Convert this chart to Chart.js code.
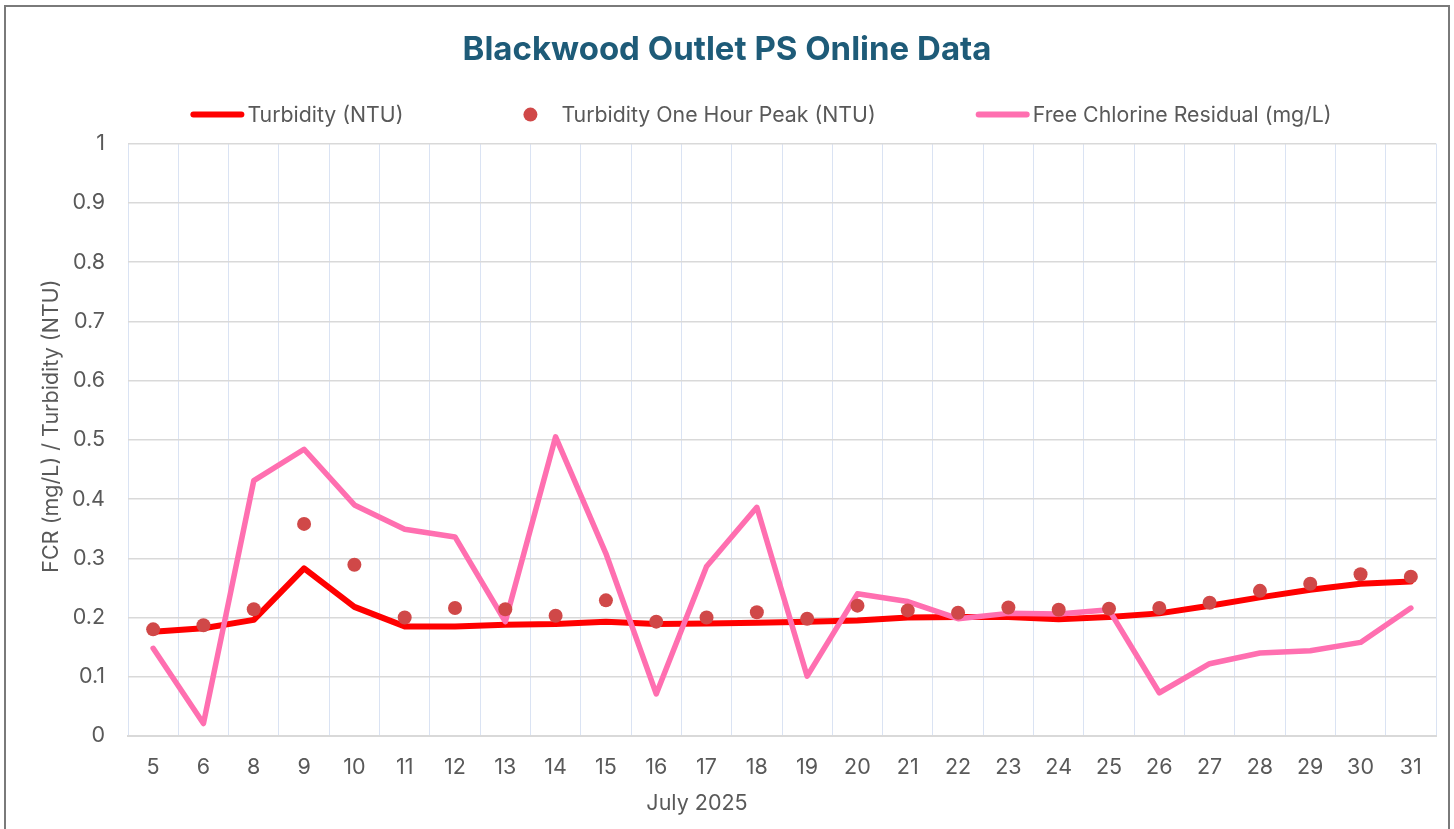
<!DOCTYPE html>
<html>
<head>
<meta charset="utf-8">
<script src="https://cdn.jsdelivr.net/npm/chart.js@4/dist/chart.umd.min.js"></script>
<style>
  html, body { margin: 0; padding: 0; background: #fff; }
  #wrap { position: relative; width: 1454px; height: 829px; overflow: hidden; }
  #frame { position: absolute; left: 4px; top: 5px; width: 1442px; height: 840px;
           border: 2px solid #7a7a7a; pointer-events: none; }
</style>
</head>
<body>
<div id="wrap">
  <canvas id="chart" width="1454" height="829"></canvas>
  <div id="frame"></div>
</div>
<script>
// ----- data -----
const days = ['5', '6', '8', '9', '10', '11', '12', '13', '14', '15', '16', '17', '18',
  '19', '20', '21', '22', '23', '24', '25', '26', '27', '28', '29', '30', '31'];
const turbidity = [0.176, 0.182, 0.196, 0.283, 0.218, 0.185, 0.185, 0.188, 0.189, 0.193, 0.189, 0.190, 0.191,
  0.193, 0.195, 0.200, 0.201, 0.201, 0.197, 0.201, 0.207, 0.220, 0.234, 0.247, 0.257, 0.261];
const turbidityPeak = [0.180, 0.187, 0.214, 0.358, 0.289, 0.200, 0.216, 0.214, 0.203, 0.229, 0.193, 0.200, 0.209,
  0.198, 0.220, 0.212, 0.208, 0.217, 0.213, 0.215, 0.216, 0.225, 0.245, 0.257, 0.273, 0.269];
const chlorine = [0.148, 0.021, 0.431, 0.484, 0.390, 0.349, 0.336, 0.193, 0.505, 0.308, 0.071, 0.286, 0.386,
  0.101, 0.240, 0.227, 0.198, 0.207, 0.206, 0.213, 0.073, 0.122, 0.140, 0.144, 0.158, 0.216];
const yTicks = [0, 0.1, 0.2, 0.3, 0.4, 0.5, 0.6, 0.7, 0.8, 0.9, 1];
const xTitle = 'July 2025';
const yTitle = 'FCR (mg/L) / Turbidity (NTU)';

const RED = '#ff0000', PINK = '#ff6fb0', DOT = '#d04848', TXT = '#595959';
const FONT = 'Inter, "DejaVu Sans", sans-serif';

// ----- legend + axis titles (Excel puts them off-centre, so drawn here) -----
const extrasPlugin = {
  id: 'excelExtras',
  afterDraw(chart) {
    const g = chart.ctx;
    const ds = chart.data.datasets;
    const y = chart.chartArea.top - 29;
    const SW = 54, GAP = 100;
    g.save();
    g.font = '21.3px ' + FONT;
    g.textBaseline = 'middle';
    g.textAlign = 'left';
    const items = [0, 1, 2].map(i => ({ ds: ds[i], w: g.measureText(ds[i].label).width }));
    const total = items.reduce((a, it, i) => a + SW + (it.ds.showLine === false ? 4 : 3) + it.w + (i ? GAP : 0), 0);
    let x = 761 - total / 2;
    items.forEach((it, i) => {
      if (i) x += GAP;
      if (it.ds.showLine === false) {
        g.fillStyle = it.ds.backgroundColor;
        g.beginPath(); g.arc(x + SW / 2, y, 7, 0, Math.PI * 2); g.fill();
        x += SW + 4;
      } else {
        g.strokeStyle = it.ds.borderColor; g.lineWidth = 6; g.lineCap = 'round';
        g.beginPath(); g.moveTo(x + 3, y); g.lineTo(x + SW - 3, y); g.stroke();
        x += SW + 3;
      }
      g.fillStyle = TXT;
      g.fillText(it.ds.label, x, y + 1);
      x += it.w;
    });

    // axis titles
    g.font = '21.5px ' + FONT;
    g.textAlign = 'center';
    g.fillStyle = TXT;
    g.fillText(xTitle, 697, 804);
    g.translate(52, 426);
    g.rotate(-Math.PI / 2);
    g.fillText(yTitle, 0, 0);
    g.restore();
  }
};

new Chart(document.getElementById('chart').getContext('2d'), {
  type: 'line',
  data: {
    labels: days,
    datasets: [
      { label: 'Turbidity (NTU)', data: turbidity, borderColor: RED, backgroundColor: RED,
        borderWidth: 6, pointRadius: 0, tension: 0, order: 2, borderJoinStyle: 'round', borderCapStyle: 'round' },
      { label: 'Turbidity One Hour Peak (NTU)', data: turbidityPeak, showLine: false,
        backgroundColor: DOT, borderColor: DOT, borderWidth: 0, pointRadius: 7, order: 0 },
      { label: 'Free Chlorine Residual (mg/L)', data: chlorine, borderColor: PINK, backgroundColor: PINK,
        borderWidth: 5.5, pointRadius: 0, tension: 0, order: 1, borderJoinStyle: 'round', borderCapStyle: 'round' }
    ]
  },
  options: {
    responsive: false,
    animation: false,
    layout: { padding: { left: 0, right: 0, top: 0, bottom: 6 } },
    plugins: {
      legend: { display: false },
      tooltip: { enabled: false },
      title: {
        display: true,
        text: 'Blackwood Outlet PS Online Data',
        color: '#1e5b78',
        font: { family: FONT, size: 33, weight: '700' },
        padding: { top: 30, bottom: 74 }
      }
    },
    scales: {
      x: {
        offset: true,
        grid: { color: '#dae3f3', lineWidth: 1, offset: true, drawTicks: false },
        border: { color: '#d9d9d9', width: 2 },
        ticks: { color: TXT, font: { family: FONT, size: 21.5 }, padding: 19, maxRotation: 0, autoSkip: false },
        afterFit: (s) => { s.height = 87; }
      },
      y: {
        min: 0, max: 1,
        afterBuildTicks: (s) => { s.ticks = yTicks.map(v => ({ value: v })); },
        grid: { color: '#d9d9d9', lineWidth: 1.5, drawTicks: false },
        border: { display: false },
        ticks: { color: TXT, font: { family: FONT, size: 21.5 }, padding: 23, callback: (v) => String(v) },
        afterFit: (s) => { s.width = 128; }
      },
      yRight: {
        position: 'right', display: true,
        grid: { display: false }, border: { display: false },
        ticks: { display: false },
        afterFit: (s) => { s.width = 18; }
      }
    }
  },
  plugins: [extrasPlugin]
});
</script>
</body>
</html>
